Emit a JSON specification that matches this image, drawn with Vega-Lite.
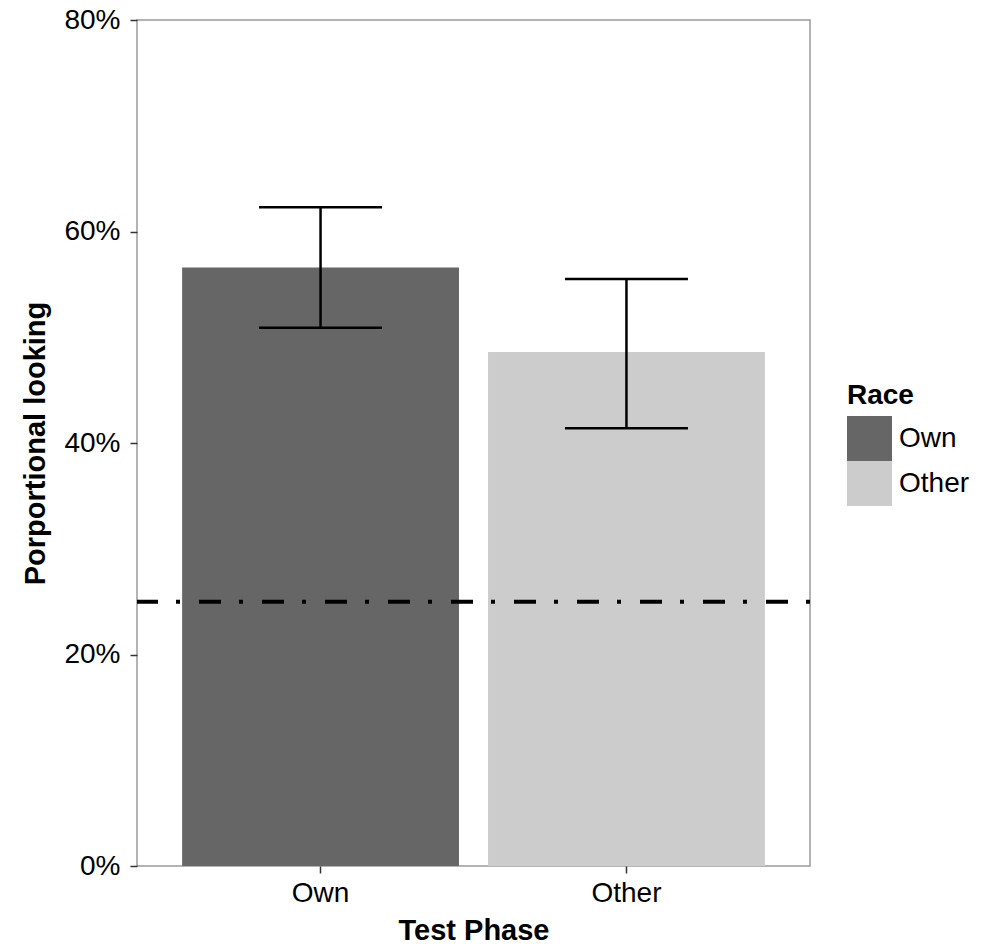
{
  "$schema": "https://vega.github.io/schema/vega-lite/v6.json",
  "width": 673,
  "height": 846,
  "autosize": {"type": "none"},
  "padding": {"left": 137, "top": 20, "right": 175, "bottom": 83},
  "background": "white",
  "config": {
    "font": "Liberation Sans",
    "view": {"stroke": "#9a9a9a", "strokeWidth": 1.5},
    "axis": {"grid": false, "domain": false, "tickColor": "#333333", "tickWidth": 1.5, "labelColor": "black", "titleColor": "black"}
  },
  "datasets": {
    "bars": [
      {"phase": "Own", "race": "Own", "mean": 0.566, "lo": 0.509, "hi": 0.623},
      {"phase": "Other", "race": "Other", "mean": 0.486, "lo": 0.414, "hi": 0.555}
    ],
    "chance": [{"chance": 0.25}]
  },
  "layer": [
    {
      "data": {"name": "bars"},
      "mark": {"type": "bar"},
      "encoding": {
        "x": {"field": "phase", "type": "nominal", "sort": ["Own", "Other"],
          "scale": {"paddingInner": 0.095, "paddingOuter": 0.1475},
          "axis": {"title": "Test Phase", "labelAngle": 0, "labelFontSize": 28, "tickSize": 7, "labelPadding": 6,
            "titleFontSize": 29, "titleFontWeight": "bold", "titlePadding": 9}},
        "y": {"field": "mean", "type": "quantitative", "scale": {"domain": [0, 0.8]},
          "axis": {"title": "Porportional looking", "values": [0, 0.2, 0.4, 0.6, 0.8], "format": ".0%",
            "labelFontSize": 28, "tickSize": 7, "labelPadding": 10,
            "titleFontSize": 29, "titleFontWeight": "bold", "titlePadding": 13}},
        "color": {"field": "race", "type": "nominal",
          "scale": {"domain": ["Own", "Other"], "range": ["#666666", "#cccccc"]},
          "legend": {"title": "Race", "orient": "none", "legendX": 710, "legendY": 362, "padding": 0,
            "titleFontSize": 28, "titleFontWeight": "bold", "titleColor": "black", "titlePadding": 6,
            "labelFontSize": 28, "labelColor": "black", "labelOffset": 7,
            "symbolType": "square", "symbolSize": 2025, "symbolStrokeWidth": 0, "symbolOpacity": 1, "rowPadding": 0}}
      }
    },
    {
      "data": {"name": "chance"},
      "mark": {"type": "rule", "strokeDash": [4, 18, 22, 19], "strokeWidth": 4, "color": "black"},
      "encoding": {"y": {"field": "chance", "type": "quantitative"}}
    },
    {
      "data": {"name": "bars"},
      "mark": {"type": "rule", "strokeWidth": 2.5, "color": "black"},
      "encoding": {
        "x": {"field": "phase", "type": "nominal", "sort": ["Own", "Other"]},
        "y": {"field": "lo", "type": "quantitative"},
        "y2": {"field": "hi"}
      }
    },
    {
      "data": {"name": "bars"},
      "mark": {"type": "tick", "orient": "horizontal", "size": 123, "thickness": 2.5, "color": "black", "opacity": 1},
      "encoding": {
        "x": {"field": "phase", "type": "nominal", "sort": ["Own", "Other"]},
        "y": {"field": "lo", "type": "quantitative"}
      }
    },
    {
      "data": {"name": "bars"},
      "mark": {"type": "tick", "orient": "horizontal", "size": 123, "thickness": 2.5, "color": "black", "opacity": 1},
      "encoding": {
        "x": {"field": "phase", "type": "nominal", "sort": ["Own", "Other"]},
        "y": {"field": "hi", "type": "quantitative"}
      }
    }
  ]
}
